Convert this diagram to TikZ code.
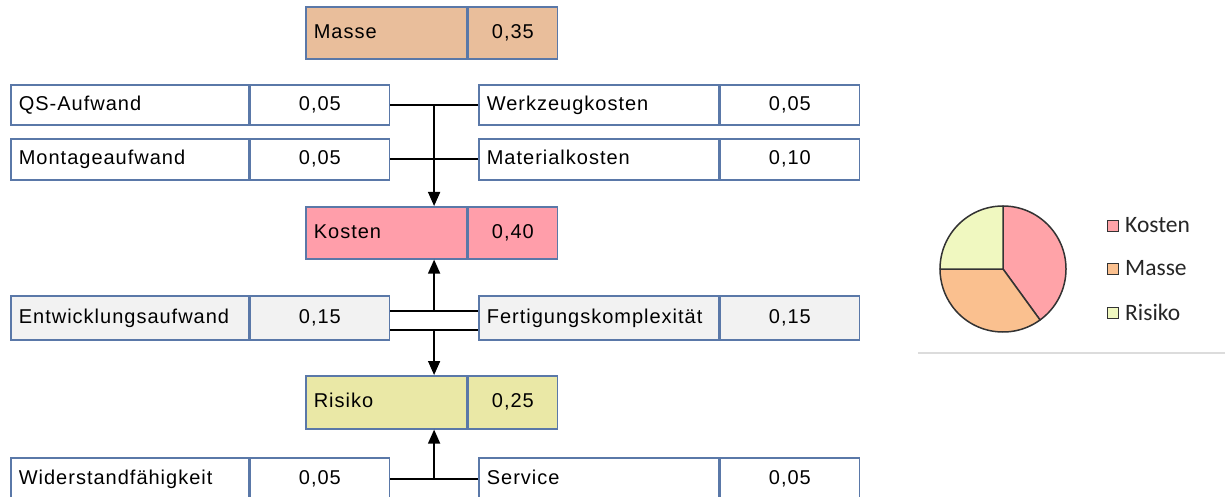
\documentclass[tikz,border=0pt]{standalone}
\usepackage{fontspec}
\setmainfont[LetterSpace=5]{Liberation Sans}
\newfontfamily\legendfont{Carlito}
\usetikzlibrary{arrows.meta,calc}

\definecolor{boxline}{HTML}{5A78A8}
\definecolor{masseFill}{HTML}{E9BE9B}
\definecolor{kostenFill}{HTML}{FF9EAA}
\definecolor{risikoFill}{HTML}{EAE8A6}
\definecolor{greyFill}{HTML}{F2F2F2}
\definecolor{pieK}{HTML}{FFA3A8}
\definecolor{pieM}{HTML}{FAC08F}
\definecolor{pieR}{HTML}{F0F8C0}
\definecolor{pieLine}{HTML}{333333}
\definecolor{legText}{HTML}{262626}
\definecolor{ruleGrey}{HTML}{DCDCDC}

\begin{document}
\begin{tikzpicture}[x=1pt,y=-1pt,
  cell/.style={draw=boxline, line width=1.6pt, inner ysep=0pt,
    text height=14.5pt, text depth=4pt,
    font=\fontsize{20}{24}\selectfont, anchor=north west},
  lab/.style={cell, align=left, inner xsep=8pt},
  val/.style={cell, align=center, inner xsep=0pt},
  conn/.style={line width=1.6pt, black},
  arr/.style={conn, -{Triangle[length=14pt,width=12pt]}},
  slice/.style={draw=pieLine, line width=1.5pt, line join=round},
  legbox/.style={draw=pieLine, line width=1.3pt, minimum size=11pt, inner sep=0pt},
  legtxt/.style={anchor=west, inner sep=0pt, text=legText,
    font=\legendfont\fontsize{23.5}{27}\selectfont}
]
\useasboundingbox (0,0) rectangle (1225,497);
\clip (0,0) rectangle (1225,497);
\fill[white] (0,0) rectangle (1225,497);

% main criteria
\node[lab, fill=masseFill, text width=145pt, minimum height=52pt] (mL) at (305,6) {Masse};
\node[val, fill=masseFill, minimum width=89pt, minimum height=52pt] (mV) at (mL.north east) {0,35};

\node[lab, fill=kostenFill, text width=145pt, minimum height=52pt] (kL) at (305,206) {Kosten};
\node[val, fill=kostenFill, minimum width=89pt, minimum height=52pt] (kV) at (kL.north east) {0,40};

\node[lab, fill=risikoFill, text width=145pt, minimum height=53pt] (rL) at (305,375) {Risiko};
\node[val, fill=risikoFill, minimum width=89pt, minimum height=53pt] (rV) at (rL.north east) {0,25};

% sub criteria, left column
\node[lab, fill=white, text width=222pt, minimum height=40pt] (qsL) at (10,84) {QS-Aufwand};
\node[val, fill=white, minimum width=139pt, minimum height=40pt] (qsV) at (qsL.north east) {0,05};

\node[lab, fill=white, text width=222pt, minimum height=41pt] (moL) at (10,138) {Montageaufwand};
\node[val, fill=white, minimum width=139pt, minimum height=41pt] (moV) at (moL.north east) {0,05};

\node[lab, fill=greyFill, text width=222pt, minimum height=44pt] (enL) at (10,295) {Entwicklungsaufwand};
\node[val, fill=greyFill, minimum width=139pt, minimum height=44pt] (enV) at (enL.north east) {0,15};

\node[lab, fill=white, text width=222pt, minimum height=42pt] (wiL) at (10,457) {Widerstandfähigkeit};
\node[val, fill=white, minimum width=139pt, minimum height=42pt] (wiV) at (wiL.north east) {0,05};

% sub criteria, right column
\node[lab, fill=white, text width=224pt, minimum height=40pt] (wzL) at (478,84) {Werkzeugkosten};
\node[val, fill=white, minimum width=139pt, minimum height=40pt] (wzV) at (wzL.north east) {0,05};

\node[lab, fill=white, text width=224pt, minimum height=41pt] (maL) at (478,138) {Materialkosten};
\node[val, fill=white, minimum width=139pt, minimum height=41pt] (maV) at (maL.north east) {0,10};

\node[lab, fill=greyFill, text width=224pt, minimum height=44pt] (feL) at (478,295) {Fertigungskomplexität};
\node[val, fill=greyFill, minimum width=139pt, minimum height=44pt] (feV) at (feL.north east) {0,15};

\node[lab, fill=white, text width=224pt, minimum height=42pt] (seL) at (478,457) {Service};
\node[val, fill=white, minimum width=139pt, minimum height=42pt] (seV) at (seL.north east) {0,05};

% connectors into Kosten (from above)
\draw[conn] (qsV.east) -- (wzL.west);
\draw[conn] (moV.east) -- (maL.west);
\coordinate (jTop) at ($(qsV.east)!0.5!(wzL.west)$);
\draw[arr] (jTop) -- (jTop |- kL.north);

% shared criteria feeding Kosten and Risiko
\coordinate (enU) at ([yshift=7pt]enV.east);
\coordinate (enD) at ([yshift=-12pt]enV.east);
\coordinate (feU) at ([yshift=7pt]feL.west);
\coordinate (feD) at ([yshift=-12pt]feL.west);
\draw[conn] (enU) -- (feU);
\draw[conn] (enD) -- (feD);
\coordinate (jUp) at ($(enU)!0.5!(feU)$);
\coordinate (jDn) at ($(enD)!0.5!(feD)$);
\draw[arr] (jUp) -- (jUp |- kL.south);
\draw[arr] (jDn) -- (jDn |- rL.north);

% connectors into Risiko (from below)
\draw[conn] (wiV.east) -- (seL.west);
\coordinate (jBot) at ($(wiV.east)!0.5!(seL.west)$);
\draw[arr] (jBot) -- (jBot |- rL.south);

% pie chart of the main weights
\begin{scope}[shift={(1003,269)}, yscale=-1]
  \coordinate (pc) at (0,0);
  \filldraw[slice, fill=pieK] (pc) -- (90:63) arc[start angle=90, end angle=-54, radius=63] -- cycle;
  \filldraw[slice, fill=pieM] (pc) -- (-54:63) arc[start angle=-54, end angle=-180, radius=63] -- cycle;
  \filldraw[slice, fill=pieR] (pc) -- (180:63) arc[start angle=180, end angle=90, radius=63] -- cycle;
\end{scope}

% legend
\node[legbox, fill=pieK] (lgK) at (1113,226) {};
\node[legtxt] (lgKt) at (1125,225) {Kosten};
\node[legbox, fill=pieM] (lgM) at (1113,269) {};
\node[legtxt] (lgMt) at (1125,268) {Masse};
\node[legbox, fill=pieR] (lgR) at (1113,313) {};
\node[legtxt] (lgRt) at (1125,312) {Risiko};

% separator under the chart
\draw[ruleGrey, line width=1.5pt] (918,353) -- (1225,353);
\end{tikzpicture}
\end{document}
